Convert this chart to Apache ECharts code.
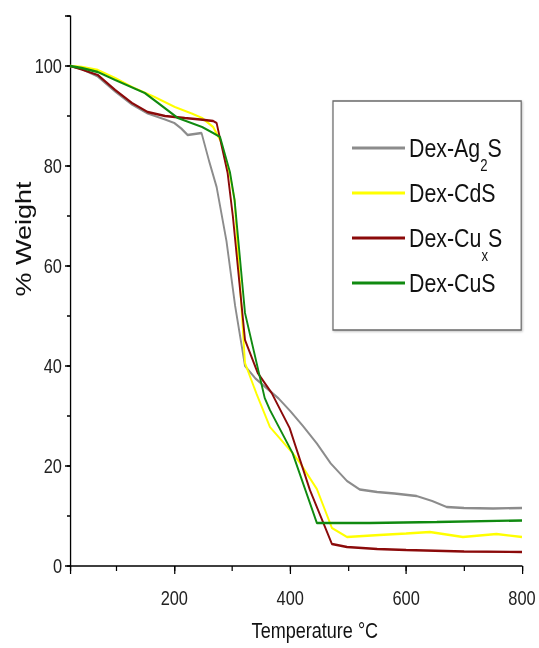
<!DOCTYPE html>
<html><head><meta charset="utf-8">
<script src="https://cdn.jsdelivr.net/npm/echarts@6/dist/echarts.min.js"></script>
<style>
html,body{margin:0;padding:0;background:#fff;overflow:hidden;width:539px;height:648px}
#c{width:657px;height:648px;transform:scaleX(0.8204);transform-origin:0 0}
</style>
</head><body><div id="c"></div>
<script>
// ---- data ----
const seriesNames = ['Dex-Ag2S', 'Dex-CdS', 'Dex-CuxS', 'Dex-CuS'];

const ag2sTemp   = [20, 40, 68, 98, 127, 154, 184, 200, 212, 223, 247, 260, 273, 290, 305, 322, 340, 365, 380, 400, 422, 446, 470, 498, 520, 550, 580, 618, 645, 670, 700, 750, 800];
const ag2sWeight = [100, 99.4, 97.9, 94.9, 92.3, 90.5, 89.3, 88.6, 87.5, 86.2, 86.6, 81, 75.8, 65, 52, 40, 37.5, 35, 33.5, 31, 28, 24.5, 20.5, 17, 15.3, 14.8, 14.5, 14, 13, 11.8, 11.6, 11.5, 11.6];

const cdsTemp   = [20, 40, 68, 98, 127, 166, 201, 230, 248, 267, 280, 296, 304, 322, 342, 365, 404, 417, 446, 472, 498, 554, 600, 641, 698, 756, 800];
const cdsWeight = [100, 99.8, 99.2, 97.6, 95.8, 93.8, 91.8, 90.5, 89.6, 87.8, 85, 78.2, 73.2, 40.6, 34.4, 27.8, 22.6, 20.6, 15.4, 7.6, 5.8, 6.2, 6.5, 6.8, 5.8, 6.4, 5.8];

const cuxsTemp   = [20, 40, 68, 98, 127, 154, 184, 218, 245, 267, 273, 292, 301, 322, 344, 368, 399, 417, 434, 472, 498, 550, 600, 700, 800];
const cuxsWeight = [100, 99.3, 98.2, 95.2, 92.6, 90.8, 90, 89.6, 89.3, 89, 88.6, 78.6, 70, 45.2, 38.6, 34.6, 27.6, 21.2, 15.2, 4.4, 3.8, 3.4, 3.2, 2.9, 2.8];

const cusTemp   = [20, 40, 68, 98, 149, 172, 206, 248, 267, 279, 296, 304, 322, 342, 356, 365, 404, 446, 537, 653, 800];
const cusWeight = [100, 99.6, 98.8, 97.2, 94.6, 92.6, 89.6, 87.8, 86.6, 85.8, 78.8, 73.2, 50.6, 40.6, 33.6, 31.2, 22.6, 8.6, 8.6, 8.8, 9.1];

const xTickLabels = ['200', '400', '600', '800'];
const yTickLabels = ['0', '20', '40', '60', '80', '100'];
const xTitle = 'Temperature °C';
const yTitle = '% Weight';

// ---- chart (drawn in a horizontally condensed frame, like the reference) ----
const SX = 0.8204;
const px = v => v / SX;   // screen-x pixels -> inner pixels
const FONT = "'Liberation Sans', Arial, Helvetica, sans-serif";
const colors = ['#8c8c8c', '#ffff00', '#8b0a0a', '#108a10'];
const temps = [ag2sTemp, cdsTemp, cuxsTemp, cusTemp];
const weights = [ag2sWeight, cdsWeight, cuxsWeight, cusWeight];
const legendRich = {
  'Dex-Ag2S': '{b|Dex-Ag}{s|2}{b|S}',
  'Dex-CdS': '{b|Dex-CdS}{s| }',
  'Dex-CuxS': '{b|Dex-Cu}{s|x}{b|S}',
  'Dex-CuS': '{b|Dex-CuS}{s| }'
};

const chart = echarts.init(document.getElementById('c'), null, {renderer: 'svg'});
chart.setOption({
  animation: false,
  backgroundColor: '#fff',
  color: colors,
  grid: {left: px(70), right: px(17), top: 16, bottom: 82, containLabel: false, outerBoundsMode: 'none'},
  legend: {
    orient: 'vertical', left: px(333), top: 101,
    padding: [34, px(19), 21, px(19)], itemGap: 6,
    itemWidth: px(53), itemHeight: 3, icon: 'rect',
    borderColor: '#6a6a6a', borderWidth: 1.5, backgroundColor: '#fff',
    shadowColor: 'rgba(0,0,0,0.25)', shadowBlur: 2, shadowOffsetX: 1, shadowOffsetY: 1,
    data: seriesNames,
    formatter: n => legendRich[n],
    textStyle: {
      rich: {
        b: {fontSize: 26, fontFamily: FONT, lineHeight: 52, color: '#111'},
        s: {fontSize: 16, fontFamily: FONT, lineHeight: 16, verticalAlign: 'bottom', color: '#111'}
      }
    }
  },
  xAxis: [{
    type: 'value', min: 20, max: 800, splitNumber: 5,
    name: xTitle, nameLocation: 'middle', nameGap: 53, nameMoveOverlap: false,
    nameTextStyle: {fontSize: 22, fontFamily: FONT, color: '#111', padding: [0, 0, 0, 46]},
    axisLine: {show: true, lineStyle: {color: '#000', width: 1.6}},
    axisTick: {show: true, length: 8, inside: false, lineStyle: {color: '#000', width: 1.5}},
    axisLabel: {
      fontSize: 20, fontFamily: FONT, color: '#222', margin: 22,
      formatter: v => xTickLabels.includes(String(v)) ? String(v) : ''
    },
    splitLine: {show: false}
  }, {
    type: 'value', min: 20, max: 800, splitNumber: 8, position: 'bottom',
    axisLine: {show: false},
    axisTick: {show: true, length: 5, lineStyle: {color: '#000', width: 1.5}},
    axisLabel: {show: false}, splitLine: {show: false}
  }],
  yAxis: [{
    type: 'value', min: 0, max: 110, interval: 20,
    name: yTitle, nameLocation: 'middle', nameGap: 43, nameMoveOverlap: false,
    nameTextStyle: {fontSize: 27, fontFamily: FONT, color: '#111', padding: [0, 0, 0, 104]},
    axisLine: {show: true, lineStyle: {color: '#000', width: 1.6}},
    axisTick: {show: true, length: px(5), lineStyle: {color: '#000', width: 1.5}},
    axisLabel: {
      fontSize: 20, fontFamily: FONT, color: '#222', margin: px(8),
      formatter: v => yTickLabels.includes(String(v)) ? String(v) : ''
    },
    splitLine: {show: false}
  }, {
    type: 'value', min: 0, max: 110, interval: 10, position: 'left', offset: 0,
    axisLine: {show: false},
    axisTick: {show: true, length: px(3), lineStyle: {color: '#000', width: 1.5}},
    axisLabel: {show: false}, splitLine: {show: false}
  }],
  series: seriesNames.map((name, i) => ({
    name, type: 'line', xAxisIndex: 0, yAxisIndex: 0,
    symbol: 'none', smooth: false,
    lineStyle: {width: 2.3, color: colors[i]},
    data: temps[i].map((t, k) => [t, weights[i][k]])
  }))
});
</script></body></html>
